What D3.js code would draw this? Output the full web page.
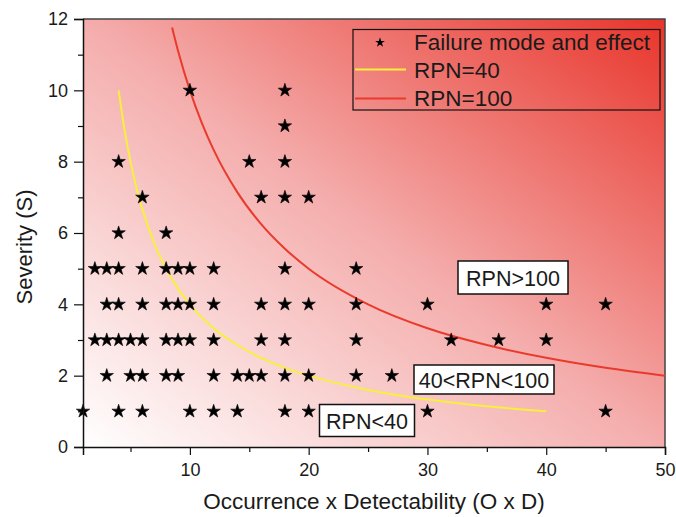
<!DOCTYPE html>
<html>
<head>
<meta charset="utf-8">
<script src="https://cdn.jsdelivr.net/npm/d3@7"></script>
<style>
  body { margin: 0; background: #fff; }
  text { font-family: "Liberation Sans", Arial, sans-serif; fill: #1a1a1a; }
</style>
</head>
<body>
<div id="chart"></div>
<script>
// severity levels and the O x D values of the failure modes on each level
var severityLevels = [1, 2, 3, 4, 5, 6, 7, 8, 9, 10];
var odBySeverity = [
  [1, 4, 6, 10, 12, 14, 18, 20, 30, 45],
  [3, 5, 6, 8, 9, 12, 14, 15, 16, 18, 20, 24, 27],
  [2, 3, 4, 5, 6, 8, 9, 10, 12, 16, 18, 24, 32, 36, 40],
  [3, 4, 6, 8, 9, 10, 12, 16, 18, 20, 24, 30, 40, 45],
  [2, 3, 4, 6, 8, 9, 10, 12, 18, 24],
  [4, 8],
  [6, 16, 18, 20],
  [4, 15, 18],
  [18],
  [10, 18]
];

// iso-RPN curves, points
var rpn40X = [4, 4.5, 5, 5.5, 6, 7, 8, 9, 10, 12, 14, 16, 18, 20, 25, 30, 35, 40];
var rpn40Y = [10, 8.89, 8, 7.27, 6.67, 5.71, 5, 4.44, 4, 3.33, 2.86, 2.5, 2.22, 2, 1.6, 1.33, 1.14, 1];
var rpn100X = [8.5, 9, 10, 11, 12, 14, 16, 18, 20, 25, 30, 35, 40, 45, 50];
var rpn100Y = [11.76, 11.11, 10, 9.09, 8.33, 7.14, 6.25, 5.56, 5, 4, 3.33, 2.86, 2.5, 2.22, 2];

var xTicks = [10, 20, 30, 40, 50];
var xMinorTicks = [5, 15, 25, 35, 45];
var yTicks = [0, 2, 4, 6, 8, 10, 12];
var yMinorTicks = [1, 3, 5, 7, 9, 11];

var legendLabels = ["Failure mode and effect", "RPN=40", "RPN=100"];
var zoneLabels = ["RPN>100", "40<RPN<100", "RPN<40"];

var svgWidth = 676;
var svgHeight = 517;

var svg = d3.select("#chart")
  .append("svg")
  .attr("width", svgWidth)
  .attr("height", svgHeight);

var x = d3.scaleLinear().domain([1, 50]).range([83, 665]);
var y = d3.scaleLinear().domain([0, 12]).range([447, 19]);

// background gradient
var grad = svg.append("defs").append("linearGradient")
  .attr("id", "bg")
  .attr("x1", 0).attr("y1", 1).attr("x2", 1).attr("y2", 0);
grad.append("stop").attr("offset", 0).attr("stop-color", "#ffffff");
grad.append("stop").attr("offset", 0.5).attr("stop-color", "#f4adac");
grad.append("stop").attr("offset", 1).attr("stop-color", "#e8342a");

svg.append("rect")
  .attr("x", x(1)).attr("y", y(12))
  .attr("width", x(50) - x(1))
  .attr("height", y(0) - y(12))
  .attr("fill", "url(#bg)");

// frame (top/right)
svg.append("path")
  .attr("d", `M${x(1)},${y(12)}H${x(50)}V${y(0)}`)
  .attr("fill", "none")
  .attr("stroke", "#444")
  .attr("stroke-width", 1.5);

// curves
var line = d3.line().x(d => x(d[0])).y(d => y(d[1])).curve(d3.curveMonotoneX);

svg.append("path")
  .datum(rpn40X.map((v, i) => [v, rpn40Y[i]]))
  .attr("d", line)
  .attr("fill", "none")
  .attr("stroke", "#f7f03c")
  .attr("stroke-width", 2);

svg.append("path")
  .datum(rpn100X.map((v, i) => [v, rpn100Y[i]]))
  .attr("d", line)
  .attr("fill", "none")
  .attr("stroke", "#ea3a2c")
  .attr("stroke-width", 2);

// points
var points = [];
severityLevels.forEach(function(s, i) {
  odBySeverity[i].forEach(function(od) { points.push({ od: od, s: s }); });
});

var star = d3.symbol().type(d3.symbolStar).size(56);
svg.selectAll(".pt")
  .data(points)
  .enter()
  .append("path")
  .attr("class", "pt")
  .attr("transform", d => `translate(${x(d.od)},${y(d.s)})`)
  .attr("d", star)
  .attr("fill", "#000")
  .attr("stroke", "#000")
  .attr("stroke-width", 0.6);

// axes
var bottomAxis = d3.axisBottom(x).tickValues(xTicks).tickSize(8).tickPadding(8);
var leftAxis = d3.axisLeft(y).tickValues(yTicks).tickSize(9).tickPadding(6);

svg.append("g")
  .attr("transform", `translate(0, ${y(0)})`)
  .call(bottomAxis);
svg.append("g")
  .attr("transform", `translate(0, ${y(0)})`)
  .call(d3.axisBottom(x).tickValues(xMinorTicks).tickSize(5).tickFormat(""))
  .call(g => g.select(".domain").remove());

svg.append("g")
  .attr("transform", `translate(${x(1)}, 0)`)
  .call(leftAxis);
svg.append("g")
  .attr("transform", `translate(${x(1)}, 0)`)
  .call(d3.axisLeft(y).tickValues(yMinorTicks).tickSize(5).tickFormat(""))
  .call(g => g.select(".domain").remove());

svg.selectAll(".domain").attr("stroke", "#111").attr("stroke-width", 1.5);
svg.selectAll(".tick line").attr("stroke", "#111").attr("stroke-width", 1.2);
svg.selectAll(".tick text")
  .style("font-family", "'Liberation Sans', Arial, sans-serif")
  .style("font-size", "18px")
  .attr("fill", "#1a1a1a");

// axis titles
svg.append("text")
  .attr("x", (x(1) + x(50)) / 2)
  .attr("y", 509)
  .attr("text-anchor", "middle")
  .style("font-size", "22.5px")
  .text("Occurrence x Detectability (O x D)");

svg.append("text")
  .attr("transform", "translate(32, 247) rotate(-90)")
  .attr("text-anchor", "middle")
  .style("font-size", "22px")
  .text("Severity (S)");

// legend
var lg = svg.append("g");
lg.append("rect")
  .attr("x", 353).attr("y", 29.5)
  .attr("width", 307).attr("height", 80.5)
  .attr("fill", "none")
  .attr("stroke", "#111")
  .attr("stroke-width", 1.2);
lg.append("path")
  .attr("transform", "translate(380, 42.5)")
  .attr("d", d3.symbol().type(d3.symbolStar).size(30))
  .attr("fill", "#000");
lg.append("line")
  .attr("x1", 355).attr("x2", 406).attr("y1", 69.5).attr("y2", 69.5)
  .attr("stroke", "#f7f03c").attr("stroke-width", 2);
lg.append("line")
  .attr("x1", 355).attr("x2", 406).attr("y1", 98.5).attr("y2", 98.5)
  .attr("stroke", "#ea3a2c").attr("stroke-width", 2);
lg.selectAll(".lt")
  .data(legendLabels)
  .enter()
  .append("text")
  .attr("class", "lt")
  .attr("x", 414)
  .attr("y", (d, i) => 49.5 + i * 28)
  .style("font-size", "22.5px")
  .text(d => d);

// zone labels
var zones = [
  { text: zoneLabels[0], cx: 513, cy: 277.5, w: 110, h: 33 },
  { text: zoneLabels[1], cx: 484, cy: 379.5, w: 140, h: 29 },
  { text: zoneLabels[2], cx: 367, cy: 420.5, w: 95, h: 32 }
];
var zg = svg.selectAll(".zone")
  .data(zones)
  .enter()
  .append("g")
  .attr("class", "zone");
zg.append("rect")
  .attr("x", d => d.cx - d.w / 2)
  .attr("y", d => d.cy - d.h / 2)
  .attr("width", d => d.w)
  .attr("height", d => d.h)
  .attr("fill", "#fff")
  .attr("stroke", "#111")
  .attr("stroke-width", 1.5);
zg.append("text")
  .attr("x", d => d.cx)
  .attr("y", d => d.cy + 8)
  .attr("text-anchor", "middle")
  .style("font-size", "21.5px")
  .text(d => d.text);
</script>
</body>
</html>
